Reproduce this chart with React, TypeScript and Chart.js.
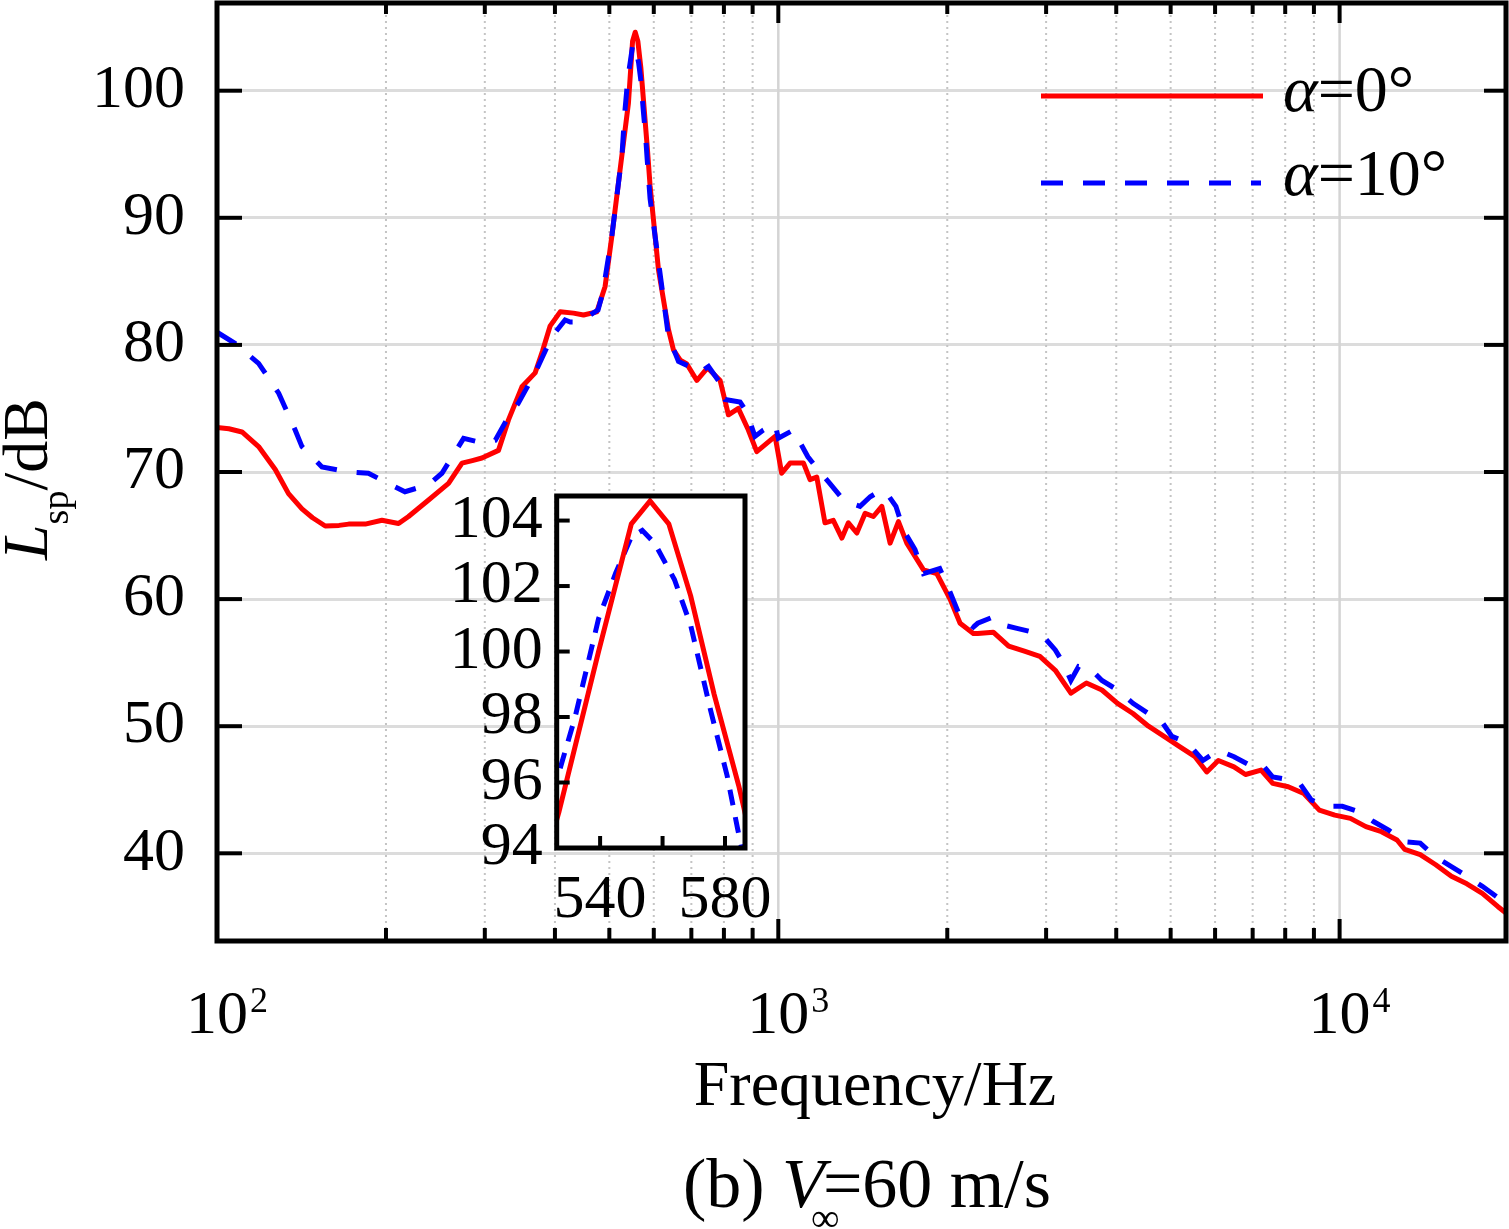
import { useEffect, useRef } from "react"
import { Chart, registerables } from "chart.js"

Chart.register(...registerables)

const serif = "'Liberation Serif', 'Times New Roman', serif"

// α = 0°, whole spectrum
const freq0 = [
  100, 105, 110.8, 118.6, 127, 134.1, 141.7, 148, 155.9, 165,
  171.6, 183.7, 196.7, 210.6, 219.4, 238.2, 258.5, 273.2, 285, 296.5,
  317.3, 330.6, 349.3, 368.8, 380, 392.3, 408.7, 431.6, 449.7, 475,
  491.4, 505, 522.6, 540.7, 550, 556, 562, 569, 576.5, 585,
  591, 611.7, 637.3, 650.5, 668.8, 687.1, 716, 748, 787.7, 815,
  849, 884.4, 915.4, 986.9, 1014, 1049.5, 1109, 1139, 1171, 1211,
  1253, 1298, 1333, 1380, 1428, 1477, 1529, 1582, 1637, 1694,
  1814, 1916, 2023, 2108, 2226, 2266, 2415, 2573, 2744, 2924,
  3115, 3321, 3539, 3772, 4021, 4284, 4566, 4868, 5187, 5526,
  5799, 6081, 6484, 6797, 7246, 7601, 8099, 8636, 9202, 9806,
  10453, 11138, 11875, 12655, 13065, 13920, 14835, 15819, 16855, 17960,
  19150, 19790,
]
const level0 = [
  73.5, 73.4, 73.15, 72.0, 70.2, 68.3, 67.1, 66.4, 65.75, 65.8,
  65.9, 65.9, 66.2, 65.95, 66.5, 67.8, 69.1, 70.7, 70.9, 71.1,
  71.7, 74.1, 76.7, 77.8, 79.5, 81.5, 82.6, 82.5, 82.35, 82.6,
  84.6, 88.5, 93.8, 99.0, 103.9, 104.6, 103.9, 101.8, 98.7, 95.2,
  92.5, 85.9, 81.2, 79.6, 78.8, 78.5, 77.2, 78.2, 77.2, 74.5,
  75.0, 73.3, 71.6, 72.8, 69.9, 70.7, 70.7, 69.4, 69.6, 66.0,
  66.2, 64.8, 66.0, 65.2, 66.75, 66.5, 67.3, 64.4, 66.1, 64.4,
  62.3, 62.0, 60.0, 58.1, 57.3, 57.3, 57.4, 56.3, 55.9, 55.5,
  54.4, 52.6, 53.4, 52.85, 51.8, 51.0, 50.0, 49.2, 48.4, 47.6,
  46.4, 47.3, 46.8, 46.2, 46.55, 45.5, 45.24, 44.7, 43.4, 43.0,
  42.75, 42.1, 41.7, 41.05, 40.3, 39.9, 39.1, 38.2, 37.6, 36.85,
  35.8, 35.3,
]

// α = 10°, whole spectrum
const freq10 = [
  100, 107.8, 118.6, 128.8, 137.8, 141.7, 153.8, 171.6, 186.1, 202,
  216.2, 238.2, 251.6, 265.9, 275, 296.5, 313.2, 330.6, 344, 368.8,
  395, 417, 426, 438, 456.6, 477.4, 486.7, 505, 526.8, 532,
  539.5, 545, 550, 553, 557.5, 563.8, 569, 575.4, 580.7, 584,
  591, 616.6, 637.3, 664, 695, 722.6, 751, 787.7, 804, 855,
  878.5, 908.6, 940.4, 986.9, 1000, 1064, 1094, 1129, 1176, 1235,
  1312, 1398, 1458, 1529, 1576, 1620, 1672, 1752, 1814, 1939,
  2004, 2108, 2226, 2266, 2415, 2497, 2662, 2837, 2975, 3115,
  3215, 3321, 3428, 3594, 3772, 4021, 4284, 4566, 4796, 5026,
  5355, 5708, 6081, 6484, 6904, 7246, 7601, 8099, 8491, 8903,
  9488, 10113, 10781, 11490, 12248, 13065, 13920, 14835, 15819, 16855,
  17960, 19150, 19790,
]
const level10 = [
  81.0, 80.1, 78.55, 76.2, 73.3, 72.0, 70.4, 70.0, 69.9, 69.1,
  68.45, 69.0, 69.9, 71.6, 72.65, 72.3, 72.5, 74.35, 75.4, 77.8,
  80.65, 81.96, 81.8, 81.8, 82.2, 82.75, 84.1, 88.5, 95.0, 98.0,
  101.0, 102.3, 103.5, 103.7, 103.3, 102.2, 100.8, 98.2, 96.2, 94.6,
  91.5, 85.4, 80.65, 78.7, 78.3, 77.8, 78.3, 77.0, 75.7, 75.5,
  74.7, 72.8, 73.3, 73.8, 72.65, 73.3, 72.3, 71.2, 70.2, 69.1,
  67.7, 67.3, 68.05, 68.6, 68.05, 67.3, 65.4, 63.9, 62.0, 62.4,
  61.0, 58.6, 57.8, 58.1, 58.6, 58.0, 57.7, 57.4, 57.0, 56.0,
  55.0, 53.6, 54.7, 54.55, 53.6, 52.85, 51.8, 51.0, 50.5, 49.2,
  48.7, 47.3, 48.1, 47.6, 46.95, 47.1, 46.0, 45.8, 45.5, 44.2,
  43.7, 43.7, 43.3, 42.5, 41.8, 40.9, 40.8, 39.7, 38.95, 38.2,
  37.4, 36.5, 36.1,
]

// inset: zoom on the tonal peak
const insetFreq0 = [522, 526.8, 539.5, 550, 556, 562, 569, 576.5, 584.4, 590]
const insetLevel0 = [93.5, 95.1, 100.0, 103.9, 104.6, 103.9, 101.7, 98.7, 95.9, 93.6]
const insetFreq10 = [522, 526.8, 532, 539.5, 545, 550, 553.5, 557.5, 563.8, 569, 575.4, 580.7, 584, 588]
const insetLevel10 = [94.8, 96.3, 98.0, 101.0, 102.4, 103.5, 103.7, 103.3, 102.2, 100.8, 98.2, 96.2, 94.6, 92.8]

const yTicks = [40, 50, 60, 70, 80, 90, 100]
const insetYTicks = [94, 96, 98, 100, 102, 104]
const insetXTicks = [540, 560, 580]
const insetXLabels = ["540", "", "580"]
const legendLabels = ["=0°", "=10°"]

const points = (f: number[], l: number[]) => f.map((x, i) => ({ x, y: l[i] }))

function line(ctx: CanvasRenderingContext2D, x1: number, y1: number, x2: number, y2: number) {
  ctx.beginPath()
  ctx.moveTo(x1, y1)
  ctx.lineTo(x2, y2)
  ctx.stroke()
}

function text(ctx: CanvasRenderingContext2D, str: string, x: number, y: number, size: number, italic = false, align: CanvasTextAlign = "left") {
  ctx.font = `${italic ? "italic " : ""}${size}px ${serif}`
  ctx.textAlign = align
  ctx.textBaseline = "alphabetic"
  ctx.fillText(str, x, y)
  return ctx.measureText(str).width
}

// log ticks with an integer significand (1..9 x 10^n)
function logTicks(scale: any) {
  const out: { value: number; major: boolean }[] = []
  for (const t of scale.ticks) {
    const e = Math.floor(Math.log10(t.value) + 1e-9)
    const sig = t.value / Math.pow(10, e)
    if (Math.abs(sig - Math.round(sig)) > 1e-6) continue
    out.push({ value: t.value, major: Math.round(sig) === 1 })
  }
  return out
}

// keep the plot box where it is: no extra room for half-labels
const noPad = (s: any) => {
  s.paddingTop = 0
  s.paddingBottom = 0
  s.paddingLeft = 0
  s.paddingRight = 0
}

const mainDecor = {
  id: "mainDecor",
  beforeDatasetsDraw(chart: any) {
    const { ctx, chartArea: a } = chart
    const xs = chart.scales.x
    ctx.save()
    for (const t of logTicks(xs)) {
      const px = xs.getPixelForValue(t.value)
      if (px < a.left + 2 || px > a.right - 2) continue
      if (t.major) {
        ctx.strokeStyle = "#d4d4d4"
        ctx.lineWidth = 2.5
        ctx.setLineDash([])
      } else {
        ctx.strokeStyle = "#c4c4c4"
        ctx.lineWidth = 2
        ctx.setLineDash([2, 4])
      }
      line(ctx, px, a.top, px, a.bottom)
    }
    ctx.restore()
  },
  afterDraw(chart: any) {
    const { ctx, chartArea: a } = chart
    const xs = chart.scales.x
    const ys = chart.scales.y
    ctx.save()
    ctx.strokeStyle = "#000"
    ctx.fillStyle = "#000"
    ctx.lineWidth = 4

    for (const t of ys.ticks) {
      const py = ys.getPixelForValue(t.value)
      line(ctx, a.left, py, a.left + 25, py)
      line(ctx, a.right, py, a.right - 22, py)
    }
    for (const t of logTicks(xs)) {
      const px = xs.getPixelForValue(t.value)
      if (px < a.left + 2 || px > a.right - 2) continue
      line(ctx, px, a.bottom, px, a.bottom - (t.major ? 22 : 13))
      line(ctx, px, a.top, px, a.top + (t.major ? 20 : 11))
    }

    ctx.lineWidth = 5
    ctx.strokeRect(a.left, a.top, a.right - a.left, a.bottom - a.top)

    // decade labels 10^n
    for (const t of logTicks(xs)) {
      if (!t.major) continue
      const px = xs.getPixelForValue(t.value)
      const e = Math.round(Math.log10(t.value))
      const w = text(ctx, "10", px, 1033, 62, false, "center")
      text(ctx, String(e), px + w / 2 + 2, 1012, 36)
    }

    text(ctx, "Frequency/Hz", 875, 1105, 64, false, "center")

    // caption
    let cx = 683
    cx += text(ctx, "(b) ", cx, 1207, 70)
    const vw = text(ctx, "V", cx, 1207, 70, true)
    text(ctx, "∞", cx + vw - 14, 1231, 40)
    text(ctx, "=60 m/s", cx + vw - 2, 1207, 70)

    // y title, rotated
    ctx.save()
    ctx.translate(47, 560)
    ctx.rotate(-Math.PI / 2)
    let tx = text(ctx, "L", 0, 0, 64, true)
    tx += text(ctx, "sp", tx, 21, 38)
    text(ctx, "/dB", tx, 0, 64)
    ctx.restore()

    // legend
    ctx.lineWidth = 5
    ctx.strokeStyle = "#ff0000"
    line(ctx, 1041, 96, 1263, 96)
    ctx.strokeStyle = "#0000ff"
    ctx.setLineDash([22, 20])
    line(ctx, 1041, 183, 1261, 183)
    ctx.setLineDash([])
    ctx.fillStyle = "#000"
    const aw0 = text(ctx, "α", 1283, 111, 66, true)
    text(ctx, legendLabels[0], 1283 + aw0, 111, 66)
    const aw1 = text(ctx, "α", 1283, 195, 66, true)
    text(ctx, legendLabels[1], 1283 + aw1, 195, 66)
    ctx.restore()
  },
}

const insetDecor = {
  id: "insetDecor",
  beforeDraw(chart: any) {
    const { ctx, chartArea: a } = chart
    ctx.save()
    ctx.fillStyle = "#fff"
    ctx.fillRect(a.left, a.top, a.right - a.left, a.bottom - a.top)
    ctx.restore()
  },
  afterDraw(chart: any) {
    const { ctx, chartArea: a } = chart
    const xs = chart.scales.x
    const ys = chart.scales.y
    ctx.save()
    ctx.strokeStyle = "#000"
    ctx.lineWidth = 4
    for (const t of ys.ticks) {
      const py = ys.getPixelForValue(t.value)
      line(ctx, a.left, py, a.left + 13, py)
    }
    for (const t of xs.ticks) {
      const px = xs.getPixelForValue(t.value)
      line(ctx, px, a.bottom, px, a.bottom - 12)
    }
    ctx.lineWidth = 5
    ctx.strokeRect(a.left, a.top, a.right - a.left, a.bottom - a.top)
    ctx.restore()
  },
}

const tickFont = { family: serif, size: 62 }

export default function App() {
  const mainRef = useRef<HTMLCanvasElement>(null)
  const insetRef = useRef<HTMLCanvasElement>(null)

  useEffect(() => {
    if (!mainRef.current || !insetRef.current) return

    const main = new Chart(mainRef.current, {
      type: "scatter",
      data: {
        datasets: [
          {
            label: "α=0°",
            data: points(freq0, level0),
            showLine: true,
            borderColor: "#ff0000",
            borderWidth: 5,
            borderJoinStyle: "round",
            pointRadius: 0,
            tension: 0,
            order: 1,
          },
          {
            label: "α=10°",
            data: points(freq10, level10),
            showLine: true,
            borderColor: "#0000ff",
            borderWidth: 5,
            borderDash: [22, 20],
            pointRadius: 0,
            tension: 0,
            order: 0,
          },
        ],
      },
      options: {
        animation: false,
        responsive: false,
        events: [],
        layout: { padding: { left: 0, top: 3, right: 3, bottom: 0 } },
        plugins: { legend: { display: false }, tooltip: { enabled: false } },
        scales: {
          x: {
            type: "logarithmic",
            min: 100,
            max: 19790,
            grid: { display: false, drawTicks: false },
            border: { display: false },
            ticks: { display: false },
            afterFit: (s: any) => {
              noPad(s)
              s.height = 288
            },
          },
          y: {
            type: "linear",
            min: 33.1,
            max: 106.9,
            afterBuildTicks: (s: any) => {
              s.ticks = yTicks.map((v) => ({ value: v }))
            },
            grid: { color: "#dcdcdc", lineWidth: 3, drawTicks: false },
            border: { display: false },
            ticks: { color: "#000", padding: 32, font: tickFont, autoSkip: false },
            afterFit: (s: any) => {
              noPad(s)
              s.width = 217
            },
          },
        },
      },
      plugins: [mainDecor],
    } as any)

    const inset = new Chart(insetRef.current, {
      type: "scatter",
      data: {
        datasets: [
          {
            data: points(insetFreq0, insetLevel0),
            showLine: true,
            borderColor: "#ff0000",
            borderWidth: 5,
            pointRadius: 0,
            tension: 0,
            order: 0,
          },
          {
            data: points(insetFreq10, insetLevel10),
            showLine: true,
            borderColor: "#0000ff",
            borderWidth: 5,
            borderDash: [16, 12],
            pointRadius: 0,
            tension: 0,
            order: 1,
          },
        ],
      },
      options: {
        animation: false,
        responsive: false,
        events: [],
        layout: { padding: { left: 0, top: 26, right: 45, bottom: 0 } },
        plugins: { legend: { display: false }, tooltip: { enabled: false } },
        scales: {
          x: {
            type: "linear",
            min: 526.1,
            max: 586.4,
            afterBuildTicks: (s: any) => {
              s.ticks = insetXTicks.map((v) => ({ value: v }))
            },
            grid: { display: false, drawTicks: false },
            border: { display: false },
            ticks: {
              color: "#000",
              padding: 16,
              font: tickFont,
              maxRotation: 0,
              autoSkip: false,
              callback: (_v: any, i: number) => insetXLabels[i],
            },
            afterFit: (s: any) => {
              noPad(s)
              s.height = 92
            },
          },
          y: {
            type: "linear",
            min: 94,
            max: 104.75,
            afterBuildTicks: (s: any) => {
              s.ticks = insetYTicks.map((v) => ({ value: v }))
            },
            grid: { display: false, drawTicks: false },
            border: { display: false },
            ticks: { color: "#000", padding: 14, font: tickFont, autoSkip: false },
            afterFit: (s: any) => {
              noPad(s)
              s.width = 126.7
            },
          },
        },
      },
      plugins: [insetDecor],
    } as any)

    return () => {
      main.destroy()
      inset.destroy()
    }
  }, [])

  return (
    <div style={{ position: "absolute", left: 0, top: 0, width: 1509, height: 1229, background: "#fff" }}>
      <canvas ref={mainRef} width={1509} height={1229} style={{ position: "absolute", left: 0, top: 0 }} />
      <canvas ref={insetRef} width={360} height={470} style={{ position: "absolute", left: 430, top: 470 }} />
    </div>
  )
}
